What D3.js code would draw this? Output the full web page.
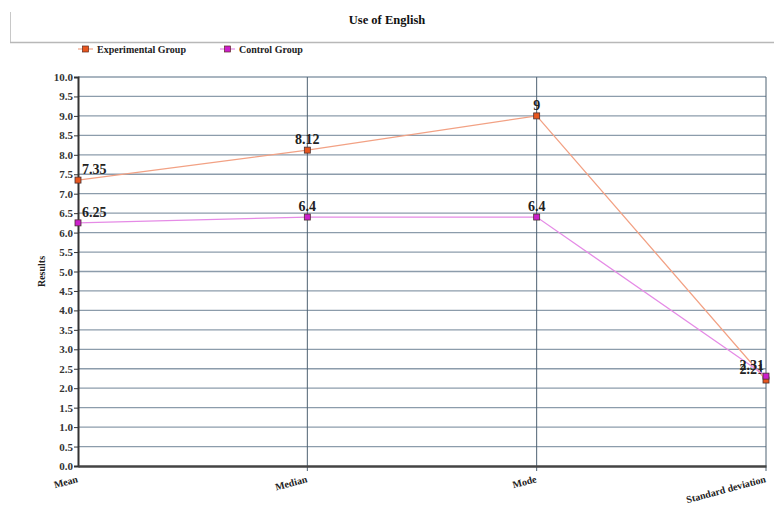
<!DOCTYPE html>
<html>
<head>
<meta charset="utf-8">
<script src="https://cdn.jsdelivr.net/npm/d3@7"></script>
<style>
  body { margin: 0; background: #fff; }
  svg { display: block; font-family: "Liberation Serif", "Times New Roman", serif; }
</style>
</head>
<body>
<div id="chart"></div>
<script>
// Statistics for the "Use of English" test
const categories = ["Mean", "Median", "Mode", "Standard deviation"];
const experimentalValues = [7.35, 8.12, 9, 2.21];
const controlValues = [6.25, 6.4, 6.4, 2.31];
const experimentalLabels = ["7.35", "8.12", "9", "2.21"];
const controlLabels = ["6.25", "6.4", "6.4", "2.31"];
const yTicks = d3.range(0, 10.01, 0.5);

const series = [
  { name: "Experimental Group", values: experimentalValues, labels: experimentalLabels, line: "#f2a184", fill: "#e8561e" },
  { name: "Control Group", values: controlValues, labels: controlLabels, line: "#e58be6", fill: "#cc1fcc" }
];

const W = 774, H = 508;
const margin = { left: 78, right: 8, top: 77, bottom: 42 };

const svg = d3.select("#chart").append("svg").attr("width", W).attr("height", H);

// Header frame and title
svg.append("line").attr("x1", 10.5).attr("x2", 10.5).attr("y1", 12).attr("y2", 42)
  .attr("stroke", "#c8c8c8").attr("stroke-width", 1);
svg.append("line").attr("x1", 10).attr("x2", W).attr("y1", 42.5).attr("y2", 42.5)
  .attr("stroke", "#b8b8b8").attr("stroke-width", 1.5);
svg.append("text").attr("x", 387).attr("y", 24).attr("text-anchor", "middle")
  .attr("font-size", 12.5).attr("font-weight", "bold").attr("fill", "#111")
  .text("Use of English");

const x = d3.scalePoint().domain(categories).range([margin.left, W - margin.right]).padding(0);
const y = d3.scaleLinear().domain([0, 10]).range([H - margin.bottom, margin.top]);

// Legend
const legend = svg.append("g");
const legendX = [78, 220];
series.forEach((s, i) => {
  const g = legend.append("g").attr("transform", `translate(${legendX[i]},49)`);
  g.append("line").attr("x1", 0).attr("x2", 15).attr("stroke", s.line).attr("stroke-width", 1.2);
  g.append("rect").attr("x", 4.5).attr("y", -3).attr("width", 6).attr("height", 6)
    .attr("fill", s.fill).attr("stroke", "#5a2a20").attr("stroke-width", 0.7);
  g.append("text").attr("x", 19).attr("y", 3.5).attr("font-size", 10).attr("font-weight", "bold")
    .attr("fill", "#222").text(s.name);
});

// Horizontal grid
svg.append("g")
  .selectAll("line").data(yTicks.filter(d => d > 0)).join("line")
  .attr("x1", margin.left).attr("x2", W - margin.right)
  .attr("y1", d => y(d)).attr("y2", d => y(d))
  .attr("stroke", "#8c9cab").attr("stroke-width", 1.3);

// Vertical grid at each category
svg.append("g")
  .selectAll("line").data(categories.slice(1)).join("line")
  .attr("x1", d => x(d)).attr("x2", d => x(d))
  .attr("y1", y(10)).attr("y2", y(0) + 5)
  .attr("stroke", "#4f6272").attr("stroke-width", 1);

// Y axis
const yAxis = svg.append("g").attr("transform", `translate(${margin.left},0)`)
  .call(d3.axisLeft(y).tickValues(yTicks).tickFormat(d3.format(".1f")).tickSize(4).tickPadding(1));
yAxis.select(".domain").attr("stroke", "#333").attr("stroke-width", 2);
yAxis.selectAll(".tick line").attr("stroke", "#333");
yAxis.selectAll("text").attr("font-size", 11).attr("font-weight", "bold").attr("fill", "#333")
  .attr("font-family", "Liberation Serif, serif");

// X axis
const xAxis = svg.append("g").attr("transform", `translate(0,${y(0)})`)
  .call(d3.axisBottom(x).tickSize(0).tickPadding(0));
xAxis.select(".domain").attr("stroke", "#444").attr("stroke-width", 2.5);
xAxis.selectAll("text")
  .attr("font-size", 10).attr("font-weight", "bold").attr("fill", "#222")
  .attr("font-family", "Liberation Serif, serif")
  .attr("text-anchor", "end").attr("dy", 0)
  .attr("transform", "translate(0,16) rotate(-15)");

// Y axis title
svg.append("text").attr("transform", `translate(45,${(y(0) + y(10)) / 2}) rotate(-90)`)
  .attr("text-anchor", "middle").attr("font-size", 10).attr("font-weight", "bold").attr("fill", "#222")
  .text("Results");

// Lines, markers and value labels
const line = d3.line().x((d, i) => x(categories[i])).y(d => y(d));
series.forEach(s => {
  const g = svg.append("g");
  g.append("path").datum(s.values).attr("d", line)
    .attr("fill", "none").attr("stroke", s.line).attr("stroke-width", 1.3);
  g.selectAll("rect").data(s.values).join("rect")
    .attr("x", (d, i) => x(categories[i]) - 3).attr("y", d => y(d) - 3)
    .attr("width", 6).attr("height", 6)
    .attr("fill", s.fill).attr("stroke", "#4a3030").attr("stroke-width", 0.8);
  g.selectAll("text").data(s.values).join("text")
    .attr("x", (d, i) => i === 0 ? x(categories[i]) + 4 : i === categories.length - 1 ? x(categories[i]) - 2 : x(categories[i]))
    .attr("y", d => y(d) - 6)
    .attr("text-anchor", (d, i) => i === 0 ? "start" : i === categories.length - 1 ? "end" : "middle")
    .attr("font-size", 14).attr("font-weight", "bold").attr("fill", "#222")
    .text((d, i) => s.labels[i]);
});
</script>
</body>
</html>
